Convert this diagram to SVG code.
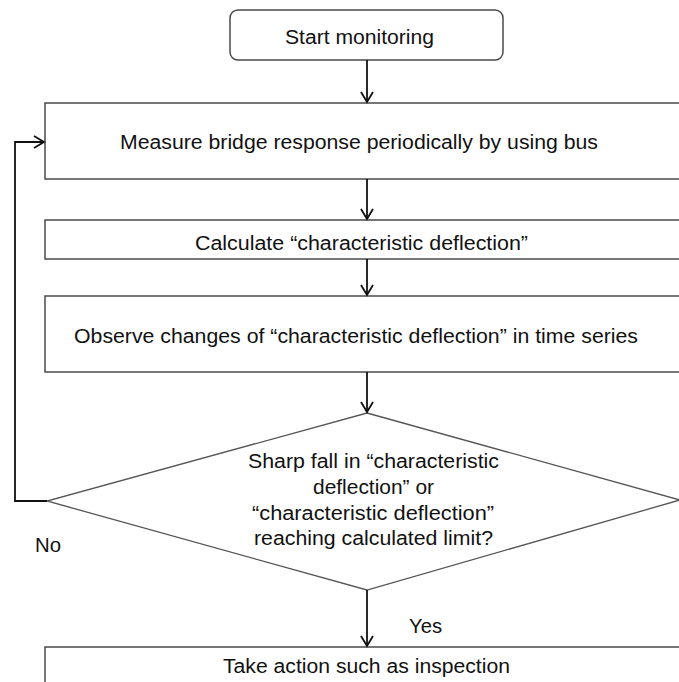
<svg xmlns="http://www.w3.org/2000/svg" width="679" height="682" viewBox="0 0 679 682">
<style>
.box{fill:#fff;stroke:#4a4a4a;stroke-width:1.5}
.dia{fill:#fff;stroke:#555;stroke-width:1.3}
.t{font-family:"Liberation Sans",Arial,sans-serif;font-size:20px;fill:#111}
.c{text-anchor:middle}
.ln{fill:none;stroke:#111;stroke-width:1.8}
</style>
<defs>
<marker id="ah" markerWidth="14" markerHeight="14" refX="11" refY="7" orient="auto" markerUnits="userSpaceOnUse">
<path d="M1,1 L11,7 L1,13" fill="none" stroke="#111" stroke-width="1.8"/>
</marker>
</defs>
<rect width="679" height="682" fill="#fff"/>
<g id="start">
<rect class="box" x="230" y="10" width="273" height="50" rx="8"/>
<text class="t c" x="359.5" y="44" textLength="149" lengthAdjust="spacingAndGlyphs">Start monitoring</text>
</g>
<g id="measure">
<rect class="box" x="45" y="103" width="660" height="76"/>
<text class="t c" x="359" y="149" textLength="478" lengthAdjust="spacingAndGlyphs">Measure bridge response periodically by using bus</text>
</g>
<g id="calculate">
<rect class="box" x="45" y="220" width="660" height="39"/>
<text class="t c" x="361.5" y="250" textLength="333" lengthAdjust="spacingAndGlyphs">Calculate “characteristic deflection”</text>
</g>
<g id="observe">
<rect class="box" x="45" y="296" width="660" height="76"/>
<text class="t c" x="356" y="343" textLength="564" lengthAdjust="spacingAndGlyphs">Observe changes of “characteristic deflection” in time series</text>
</g>
<g id="decision">
<polygon class="dia" points="367,413 680,500 367,590 47,501"/>
<text class="t c" x="373.5" y="468" textLength="251" lengthAdjust="spacingAndGlyphs">Sharp fall in “characteristic</text>
<text class="t c" x="373.5" y="494" textLength="121" lengthAdjust="spacingAndGlyphs">deflection” or</text>
<text class="t c" x="373" y="520" textLength="242" lengthAdjust="spacingAndGlyphs">“characteristic deflection”</text>
<text class="t c" x="373.5" y="545" textLength="239" lengthAdjust="spacingAndGlyphs">reaching calculated limit?</text>
</g>
<g id="action">
<rect class="box" x="45" y="647" width="660" height="60"/>
<text class="t c" x="366.5" y="673" textLength="287" lengthAdjust="spacingAndGlyphs">Take action such as inspection</text>
</g>
<g id="connectors">
<line class="ln" x1="367" y1="60" x2="367" y2="102" marker-end="url(#ah)"/>
<line class="ln" x1="367" y1="179" x2="367" y2="219" marker-end="url(#ah)"/>
<line class="ln" x1="367" y1="259" x2="367" y2="295" marker-end="url(#ah)"/>
<line class="ln" x1="367" y1="372" x2="367" y2="412" marker-end="url(#ah)"/>
<line class="ln" x1="367" y1="590" x2="367" y2="646" marker-end="url(#ah)"/>
<polyline class="ln" points="47,501 15,501 15,142 44,142" stroke-width="2.2" marker-end="url(#ah)"/>
<text class="t" x="35" y="552" textLength="26" lengthAdjust="spacingAndGlyphs">No</text>
<text class="t" x="409" y="633" textLength="33" lengthAdjust="spacingAndGlyphs">Yes</text>
</g>
</svg>
